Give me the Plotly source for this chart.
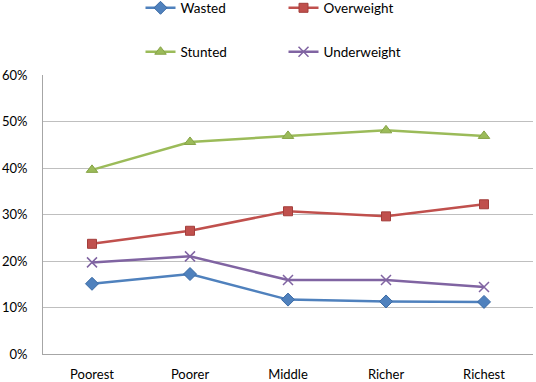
import plotly.graph_objects as go

categories = ["Poorest", "Poorer", "Middle", "Richer", "Richest"]
wasted = [0.151, 0.172, 0.117, 0.113, 0.112]
overweight = [0.237, 0.265, 0.307, 0.296, 0.322]
stunted = [0.396, 0.456, 0.469, 0.481, 0.469]
underweight = [0.197, 0.210, 0.159, 0.159, 0.144]
y_ticks = [0, 0.1, 0.2, 0.3, 0.4, 0.5, 0.6]

FONT = "Lato, 'Open Sans', sans-serif"

fig = go.Figure()
fig.add_trace(go.Scatter(x=categories, y=wasted, name="Wasted", mode="lines+markers",
                         line=dict(color="#4F81BD", width=2.5),
                         marker=dict(symbol="diamond", size=10, color="#4F81BD",
                                     line=dict(color="#3A6AA5", width=1)),
                         legend="legend"))
fig.add_trace(go.Scatter(x=categories, y=overweight, name="Overweight", mode="lines+markers",
                         line=dict(color="#C0504D", width=2.5),
                         marker=dict(symbol="square", size=9, color="#C0504D",
                                     line=dict(color="#A33E3B", width=1)),
                         legend="legend"))
fig.add_trace(go.Scatter(x=categories, y=stunted, name="Stunted", mode="lines+markers",
                         line=dict(color="#9BBB59", width=2.5),
                         marker=dict(symbol="triangle-up", size=10, color="#9BBB59",
                                     line=dict(color="#86A346", width=1)),
                         legend="legend2"))
fig.add_trace(go.Scatter(x=categories, y=underweight, name="Underweight", mode="lines+markers",
                         line=dict(color="#8064A2", width=2.5),
                         marker=dict(symbol="x-thin", size=10, color="#8064A2",
                                     line=dict(color="#8064A2", width=1.5)),
                         legend="legend2"))

legend_common = dict(orientation="h", xanchor="left", yanchor="middle",
                     font=dict(family=FONT, size=13.5, color="#000000"),
                     entrywidth=98, entrywidthmode="pixels", itemwidth=30,
                     bgcolor="rgba(0,0,0,0)", tracegroupgap=0)

fig.update_layout(
    width=536, height=382,
    margin=dict(l=43, r=3, t=75, b=28, autoexpand=False),
    paper_bgcolor="white", plot_bgcolor="white",
    font=dict(family=FONT, size=13, color="#000000"),
    showlegend=True,
    legend=dict(x=0.199, y=0.979, xref="paper", yref="container", **legend_common),
    legend2=dict(x=0.199, y=0.864, xref="paper", yref="container", **legend_common),
    xaxis=dict(showgrid=False, showline=True, linecolor="#A6A6A6", linewidth=1,
               ticks="", ticklabelstandoff=8, tickfont=dict(size=13),
               range=[-0.5, 4.5], fixedrange=True, automargin=False),
    yaxis=dict(range=[0, 0.6], tickvals=y_ticks, tickformat=".0%",
               showgrid=True, gridcolor="#BFBFBF", gridwidth=1,
               showline=True, linecolor="#A6A6A6", linewidth=1,
               zeroline=False, ticks="", ticklabelstandoff=12,
               tickfont=dict(size=13), fixedrange=True, automargin=False),
)

fig.write_html("out.html", config={"displayModeBar": False},
               post_script="document.body.style.margin='0';document.body.style.overflow='hidden';")
